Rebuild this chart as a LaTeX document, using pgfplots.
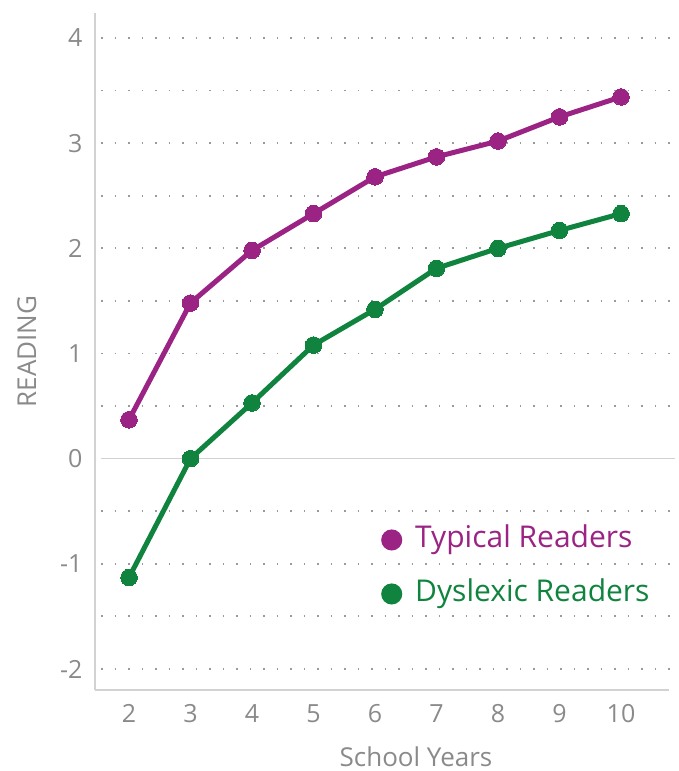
\documentclass[border=0pt]{standalone}
\usepackage{fontspec}
\setmainfont{Open Sans}
\usepackage{pgfplots}
\pgfplotsset{compat=1.18}
\definecolor{tpurple}{HTML}{9B2384}
\definecolor{tgreen}{HTML}{10843F}
\definecolor{txtgray}{HTML}{8A8A8A}
\definecolor{axgray}{HTML}{D2D2D2}
\definecolor{dotgray}{HTML}{9A9A9A}
\begin{document}
\begin{tikzpicture}[x=1pt,y=1pt]
\begin{axis}[
  at={(0pt,0pt)}, anchor=south west,
  scale only axis, width=574pt, height=677pt,
  xmin=1.447, xmax=10.78, ymin=-2.2, ymax=4.238,
  axis x line*=bottom, axis y line*=left,
  axis line style={axgray, line width=1.5pt, -},
  xtick={2,...,10}, ytick={-2,...,4},
  major tick length=0pt,
  tick label style={font=\fontsize{25}{29}\selectfont, text=txtgray},
  /pgf/number format/assume math mode=true,
  yticklabel style={xshift=-9pt},
  xticklabel style={yshift=-11pt},
  xlabel={School Years}, ylabel={READING},
  label style={font=\fontsize{26}{30}\selectfont, text=txtgray},
  xlabel style={inner sep=0pt, text depth=0pt, yshift=-20pt, xshift=34pt},
  ylabel style={yshift=17pt},
  clip=false,
  legend style={draw=none, fill=none, at={(0.4983,0.2426)}, anchor=north west,
    font=\fontsize{30}{34}\selectfont, row sep=26pt, inner sep=0pt,
    nodes={inner sep=0pt, text height=22pt, text depth=6pt},
    /tikz/every odd column/.append style={column sep=13pt}},
  legend cell align=left,
]
\pgfplotsinvokeforeach{-2,-1.5,-1,-0.5,0.5,1,1.5,2,2.5,3,3.5,4}{
  \draw[dotgray, line width=1.8pt, dash pattern=on 1.8pt off 11.7pt] (axis cs:1.545,#1) -- (axis cs:10.88,#1);
}
\draw[axgray, line width=1.6pt] (axis cs:1.545,0) -- (axis cs:10.88,0);
\addplot[tpurple, line width=5pt, mark=*, mark size=8.3pt, mark options={line width=0pt},
  legend image code/.code={\fill[tpurple] (8pt,0pt) circle (8pt);}]
  coordinates {(2,0.37) (3,1.48) (4,1.98) (5,2.33) (6,2.68) (7,2.87) (8,3.02) (9,3.25) (10,3.44)};
\addlegendentry[text=tpurple]{Typical Readers}
\addplot[tgreen, line width=5pt, mark=*, mark size=8.3pt, mark options={line width=0pt},
  legend image code/.code={\fill[tgreen] (8pt,0pt) circle (8pt);}]
  coordinates {(2,-1.13) (3,0.0) (4,0.53) (5,1.08) (6,1.42) (7,1.81) (8,2.0) (9,2.17) (10,2.33)};
\addlegendentry[text=tgreen]{Dyslexic Readers}
\end{axis}
\pgfresetboundingbox
\path (-95pt,-81pt) rectangle (583pt,690pt);
\end{tikzpicture}
\end{document}
